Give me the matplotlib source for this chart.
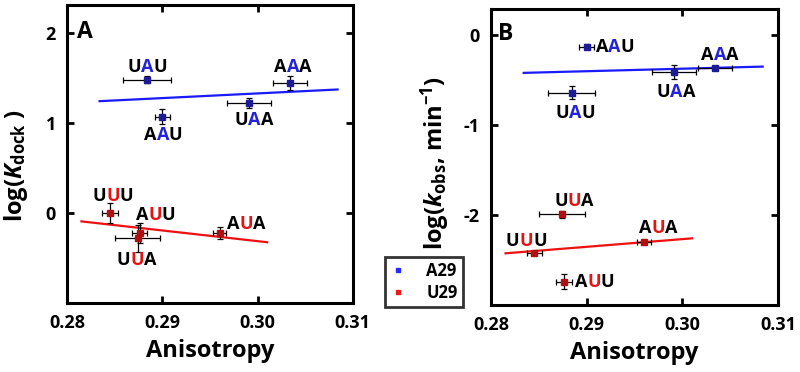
import matplotlib
matplotlib.use("Agg")
import matplotlib.pyplot as plt
import numpy as np
from matplotlib.lines import Line2D
from matplotlib.offsetbox import AnnotationBbox, HPacker, TextArea

# A29 series (middle base A)
a29_names = ["UAU", "AAU", "UAA", "AAA"]
a29_aniso = [0.2884, 0.2900, 0.2991, 0.3034]
a29_aniso_err = [0.0025, 0.0008, 0.0023, 0.0018]
a29_kdock = [1.48, 1.07, 1.22, 1.44]
a29_kdock_err = [0.04, 0.08, 0.06, 0.08]
a29_kobs = [-0.64, -0.13, -0.41, -0.37]
a29_kobs_err = [0.07, 0.03, 0.08, 0.02]

# U29 series (middle base U)
u29_names = ["UUU", "AUU", "UUA", "AUA"]
u29_aniso = [0.2845, 0.2876, 0.2874, 0.2960]
u29_aniso_err = [0.0008, 0.0008, 0.0024, 0.0007]
u29_kdock = [0.00, -0.22, -0.28, -0.22]
u29_kdock_err = [0.11, 0.11, 0.15, 0.065]
u29_kobs = [-2.42, -2.74, -1.99, -2.30]
u29_kobs_err = [0.02, 0.08, 0.04, 0.02]

a29_fit_range = [0.2834, 0.3084]
u29_fit_range = [0.2815, 0.3010]

x_ticks = [0.28, 0.29, 0.30, 0.31]
x_ticklabels = ["0.28", "0.29", "0.30", "0.31"]

plt.rcParams["font.family"] = ["Open Sans", "DejaVu Sans"]
plt.rcParams["font.weight"] = "bold"
plt.rcParams["mathtext.fontset"] = "custom"
plt.rcParams["mathtext.rm"] = "Open Sans:bold"
plt.rcParams["mathtext.it"] = "Open Sans:bold:italic"
plt.rcParams["mathtext.bf"] = "Open Sans:bold"

BLUE_LINE = "#1a1aff"
RED_LINE = "#ee1111"
BLUE_MK = "#1c1c96"
RED_MK = "#b01010"
BLUE_TXT = "#2222d8"
RED_TXT = "#e41414"

fig = plt.figure(figsize=(8.0, 3.72), dpi=100)
axA = fig.add_axes([0.084, 0.185, 0.357, 0.802])
axB = fig.add_axes([0.614, 0.180, 0.3585, 0.796])


def label(ax, x, y, name, hl, dx, dy, align="center"):
    parts = []
    for i, ch in enumerate(name):
        color = hl if i == 1 else "black"
        parts.append(TextArea(ch, textprops=dict(color=color, fontsize=13, fontweight="bold")))
    box = HPacker(children=parts, sep=0, pad=0, align="baseline")
    ba = (0.5, 0.5) if align == "center" else (0.0, 0.5)
    ab = AnnotationBbox(box, (x, y), xybox=(dx * 0.72, dy * 0.72), xycoords="data",
                        boxcoords="offset points", box_alignment=ba, frameon=False,
                        annotation_clip=False)
    ax.add_artist(ab)


def panel(ax, ya, ya_err, yu, yu_err, a_offs, u_offs):
    for xs, xe, ys, ye, mk, lc, rng in (
        (a29_aniso, a29_aniso_err, ya, ya_err, BLUE_MK, BLUE_LINE, a29_fit_range),
        (u29_aniso, u29_aniso_err, yu, yu_err, RED_MK, RED_LINE, u29_fit_range),
    ):
        slope, icpt = np.polyfit(xs, ys, 1)
        fx = np.array(rng)
        ax.plot(fx, slope * fx + icpt, color=lc, lw=1.6, zorder=2)
        ax.errorbar(xs, ys, xerr=xe, yerr=ye, fmt="s", ms=4.5, mfc=mk, mec=mk,
                    ecolor="black", elinewidth=0.9, capsize=2.5, capthick=0.9, zorder=3)
    for x, y, n, off in zip(a29_aniso, ya, a29_names, a_offs):
        label(ax, x, y, n, BLUE_TXT, *off)
    for x, y, n, off in zip(u29_aniso, yu, u29_names, u_offs):
        label(ax, x, y, n, RED_TXT, *off)

    ax.set_xlim(0.28, 0.31)
    ax.set_xticks(x_ticks)
    ax.set_xticklabels(x_ticklabels)
    ax.tick_params(direction="in", top=True, right=True, length=5, width=2,
                   labelsize=13, pad=8)
    for lab in ax.get_xticklabels() + ax.get_yticklabels():
        lab.set_fontweight("bold")
    for sp in ax.spines.values():
        sp.set_linewidth(2.2)
    ax.set_xlabel("Anisotropy", fontsize=17, fontweight="bold", labelpad=5)


panel(axA, a29_kdock, a29_kdock_err, u29_kdock, u29_kdock_err,
      [(0, 13), (1, -18), (5, -17), (3, 16)],
      [(3, 17), (16, 18), (-1, -22), (27, 9)])
axA.set_ylim(-1.0, 2.31)
axA.set_yticks([0, 1, 2])
axA.set_yticklabels(["0", "1", "2"])
axA.set_ylabel(r"log($K_{\rm dock}$ )", fontsize=17, fontweight="bold")
axA.yaxis.set_label_coords(-0.13, 0.46)
axA.text(0.035, 0.95, "A", transform=axA.transAxes, fontsize=16.5, fontweight="bold",
         va="top", ha="left")

panel(axB, a29_kobs, a29_kobs_err, u29_kobs, u29_kobs_err,
      [(4, -20), (9, 0, "left"), (2, -20), (5, 13)],
      [(-8, 12), (11, 0, "left"), (12, 13), (14, 14)])
axB.set_ylim(-3.0, 0.29)
axB.set_yticks([-2, -1, 0])
axB.set_yticklabels(["-2", "-1", "0"])
axB.set_ylabel(r"log($k_{\rm obs}$, min$^{-1}$)", fontsize=17, fontweight="bold")
axB.yaxis.set_label_coords(-0.135, 0.48)
axB.text(0.025, 0.955, "B", transform=axB.transAxes, fontsize=16.5, fontweight="bold",
         va="top", ha="left")

handles = [
    Line2D([], [], ls="none", marker="s", ms=3.5, color="#2a2aff", label="A29"),
    Line2D([], [], ls="none", marker="s", ms=3.5, color="#ee1a1a", label="U29"),
]
leg = fig.legend(handles=handles, loc="upper left", bbox_to_anchor=(0.481, 0.309),
                 borderaxespad=0, frameon=True, fancybox=False, edgecolor="black",
                 fontsize=12, handlelength=1.0, handletextpad=1.2, borderpad=0.3,
                 labelspacing=0.25)
leg.get_frame().set_linewidth(2)
for t in leg.get_texts():
    t.set_fontweight("bold")

fig.savefig("out.png", dpi=100)
